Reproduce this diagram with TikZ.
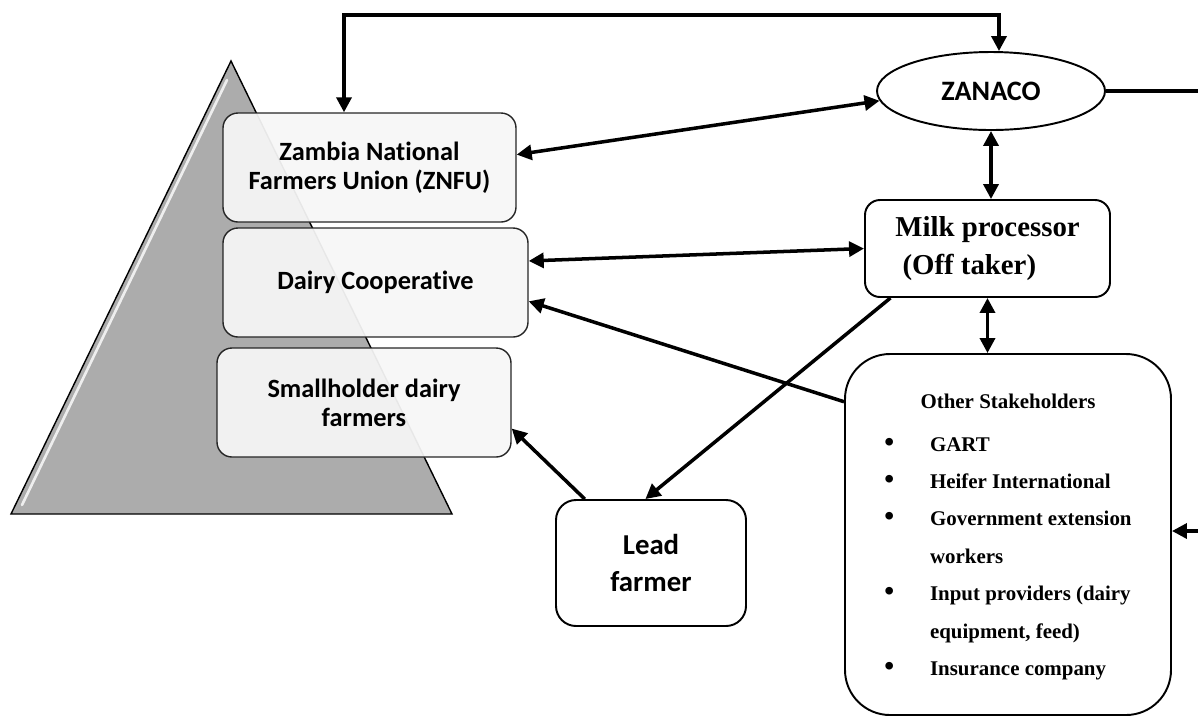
\documentclass[tikz,border=0pt]{standalone}
\usepackage{fontspec}
\setmainfont{Liberation Serif}
\newfontfamily\carlito[Ligatures=NoCommon]{Carlito}
\usetikzlibrary{arrows.meta,shapes.geometric}

\newcommand{\stakebullet}{{\fontsize{16}{16}\selectfont\textbullet}}

\tikzset{
  layerbox/.style={draw=black!85, line width=0.8pt, rounded corners=0.3cm, fill=gray!7, fill opacity=0.94, text opacity=1, minimum height=2.18cm, align=center, font=\carlito\bfseries\fontsize{15}{16.5}\selectfont},
  plainbox/.style={draw, line width=1.1pt, rounded corners=0.3cm, fill=white, align=center},
  link/.style={line width=2pt, >={Triangle[length=0.3cm,width=0.3cm]}}
}

\begin{document}
\begin{tikzpicture}
  \useasboundingbox (0cm,0cm) rectangle (23.96cm,-14.36cm);
  \filldraw[fill=gray!65, draw=black, line width=0.8pt] (4.62cm,-1.22cm) -- (9.04cm,-10.28cm) -- (0.22cm,-10.28cm) -- cycle;
  \draw[white, line width=1.5pt, line cap=round, opacity=0.8] (0.44cm,-10.10cm) -- (4.54cm,-1.60cm);
  \node[layerbox, minimum width=5.86cm] (znfu) at (7.39cm,-3.35cm) {Zambia National\\Farmers Union (ZNFU)};
  \node[layerbox, minimum width=6.10cm] (dairy) at (7.51cm,-5.65cm) {Dairy Cooperative};
  \node[layerbox, minimum width=5.88cm] (small) at (7.28cm,-8.05cm) {Smallholder dairy\\farmers};
  \node[draw, ellipse, line width=1.1pt, minimum width=4.56cm, minimum height=1.56cm, font=\carlito\bfseries\fontsize{16}{19}\selectfont] (zanaco) at (19.82cm,-1.82cm) {ZANACO};
  \node[plainbox, minimum width=4.90cm, minimum height=1.94cm, align=left, font=\bfseries\fontsize{16.4}{22}\selectfont] (milk) at (19.75cm,-4.97cm) {Milk processor\\~(Off taker)};
  \node[plainbox, rounded corners=0.4cm, minimum width=3.80cm, minimum height=2.52cm, font=\carlito\bfseries\fontsize{16.4}{21.5}\selectfont] (lead) at (13.02cm,-11.26cm) {Lead\\farmer};
  \node[plainbox, rounded corners=0.9cm, minimum width=6.52cm, minimum height=7.22cm, font=\bfseries\fontsize{11.9}{21.3}\selectfont] (other) at (20.16cm,-10.69cm) {%
    \begin{tabular}{@{}p{26pt}@{}l@{}}
      \multicolumn{2}{c}{Other Stakeholders}\\[3pt]
      \stakebullet & GART\\
      \stakebullet & Heifer International\\
      \stakebullet & Government extension\\
                   & workers\\
      \stakebullet & Input providers (dairy\\
                   & equipment, feed)\\
      \stakebullet & Insurance company
    \end{tabular}};
  \coordinate (topl) at (6.88cm,-0.30cm);
  \coordinate (topr) at (19.98cm,-0.30cm);
  \coordinate (redge) at (23.96cm,-1.78cm);
  \coordinate (rin) at (23.96cm,-10.62cm);
  \draw[link, <->] (topl |- znfu.north) -- (topl) -- (topr) -- (topr |- zanaco.north);
  \draw[link, <->] (znfu.5) -- (zanaco.185);
  \draw[link, <->] (dairy.8) -- (milk.west);
  \draw[link, <->] (zanaco.south) -- (zanaco.south |- milk.north);
  \draw[link, <->] (milk.south) -- (milk.south |- other.north);
  \draw[link, ->] (other.141) -- (dairy.-7);
  \draw[link, ->] (milk.207) -- (lead.95);
  \draw[link, ->] (lead.136) -- (small.-10);
  \draw[link] (zanaco.east) -- (zanaco.east -| redge);
  \draw[link, ->] (rin) -- (rin -| other.east);
\end{tikzpicture}
\end{document}
